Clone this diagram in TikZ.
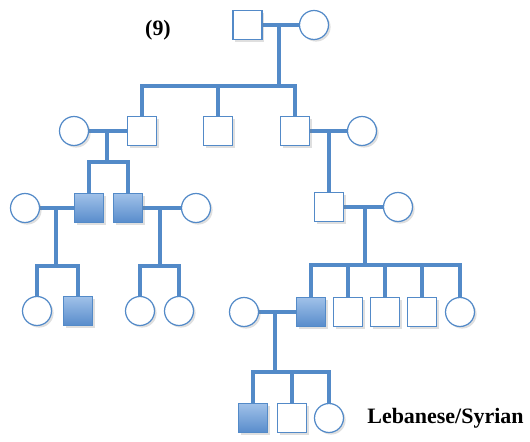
\documentclass[tikz,border=0pt]{standalone}
\usepackage{fontspec}
\setmainfont{Liberation Serif}
\usepackage{tikz}
\usetikzlibrary{shadows,backgrounds}
\definecolor{pedblue}{RGB}{83,138,200}
\definecolor{pedlight}{RGB}{160,193,232}
\definecolor{peddark}{RGB}{88,140,204}

\begin{document}
\begin{tikzpicture}[x=0.02cm, y=-0.02cm,
  every node/.style={inner sep=0pt},
  male/.style={draw=pedblue, line width=0.7pt, fill=white, minimum size=0.58cm,
    drop shadow={opacity=0.25, shadow xshift=1.2pt, shadow yshift=-1.2pt}},
  female/.style={male, circle},
  affected/.style={male, top color=pedlight, bottom color=peddark},
  pedline/.style={draw=pedblue, line width=2.6pt},
  label/.style={font=\fontsize{12.5}{14}\selectfont\bfseries}]
\useasboundingbox (0,0) rectangle (530,442);

% generation I
\node[male] (m1) at (247.5,25) {};
\node[female] (f1) at (314,25) {};
% generation II
\node[female] (f2) at (74,131) {};
\node[male] (m2) at (142,131) {};
\node[male] (m3) at (218,131) {};
\node[male] (m4) at (295,131) {};
\node[female] (f3) at (362,131) {};
% generation III
\node[female] (f4) at (25,208) {};
\node[affected] (a1) at (89,208) {};
\node[affected] (a2) at (128,208) {};
\node[female] (f5) at (196,208) {};
\node[male] (m5) at (329,207) {};
\node[female] (f9) at (398,207) {};
% generation IV
\node[female] (f6) at (37,311) {};
\node[affected] (a3) at (78,311) {};
\node[female] (f7) at (140,311) {};
\node[female] (f8) at (179,311) {};
\node[female] (f10) at (244,312) {};
\node[affected] (a4) at (311,312) {};
\node[male] (m6) at (348,312) {};
\node[male] (m7) at (385,312) {};
\node[male] (m8) at (422,312) {};
\node[female] (f11) at (460,312) {};
% generation V
\node[affected] (a5) at (253,418) {};
\node[male] (m9) at (292,418) {};
\node[female] (f12) at (329,418) {};

\node[label] (fam) at (158,30) {(9)};
\node[label, anchor=west] (orig) at (367,418) {Lebanese/Syrian};

\begin{scope}[on background layer]
\coordinate (d1) at (279,25);
\draw[pedline] (m1) -- (f1);
\draw[pedline] (d1) -- (d1 |- 0,86);
\draw[pedline] (m2.north) |- (0,86 -| m4) -- (m4.north);
\draw[pedline] (m3.north) -- (m3.north |- 0,86);

\coordinate (d2) at (107,131);
\draw[pedline] (f2) -- (m2);
\draw[pedline] (d2) -- (d2 |- 0,162);
\draw[pedline] (a1.north) |- (0,162 -| a2) -- (a2.north);

\coordinate (d3) at (56,208);
\draw[pedline] (f4) -- (a1);
\draw[pedline] (d3) -- (d3 |- 0,266);
\draw[pedline] (f6.north) |- (0,266 -| a3) -- (a3.north);

\coordinate (d4) at (160,208);
\draw[pedline] (a2) -- (f5);
\draw[pedline] (d4) -- (d4 |- 0,266);
\draw[pedline] (f7.north) |- (0,266 -| f8) -- (f8.north);

\coordinate (d5) at (329,131);
\draw[pedline] (m4) -- (f3);
\draw[pedline] (d5) -- (m5.north);

\coordinate (d6) at (365,207);
\draw[pedline] (m5) -- (f9);
\draw[pedline] (d6) -- (d6 |- 0,265);
\draw[pedline] (a4.north) |- (0,265 -| f11) -- (f11.north);
\foreach \c in {m6,m7,m8} \draw[pedline] (\c.north) -- (\c.north |- 0,265);

\coordinate (d7) at (275,312);
\draw[pedline] (f10) -- (a4);
\draw[pedline] (d7) -- (d7 |- 0,372);
\draw[pedline] (a5.north) |- (0,372 -| f12) -- (f12.north);
\draw[pedline] (m9.north) -- (m9.north |- 0,372);
\end{scope}
\end{tikzpicture}
\end{document}
